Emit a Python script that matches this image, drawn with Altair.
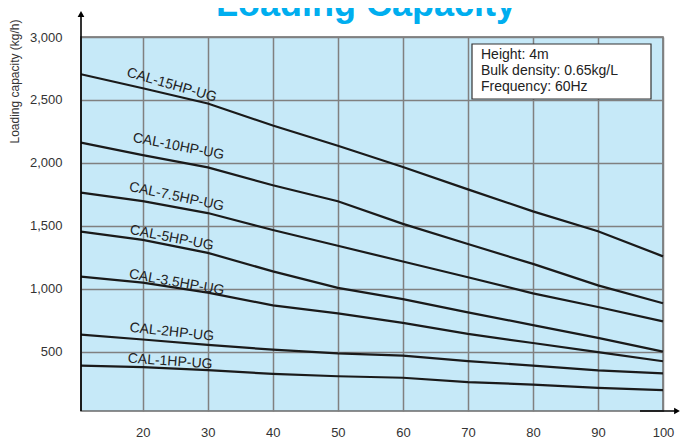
import altair as alt
import pandas as pd

# ---- data ----
capacity = [10.5, 20, 30, 40, 50, 60, 70, 80, 90, 100]
models = ["CAL-15HP-UG", "CAL-10HP-UG", "CAL-7.5HP-UG", "CAL-5HP-UG",
          "CAL-3.5HP-UG", "CAL-2HP-UG", "CAL-1HP-UG"]
hp15 = [2704, 2593, 2472, 2297, 2136, 1968, 1790, 1615, 1458, 1258]
hp10 = [2161, 2062, 1965, 1823, 1696, 1516, 1356, 1198, 1028, 886]
hp7_5 = [1764, 1696, 1602, 1467, 1342, 1217, 1092, 964, 856, 742]
hp5 = [1454, 1389, 1286, 1139, 1008, 919, 813, 712, 611, 502]
hp3_5 = [1097, 1050, 970, 869, 805, 730, 642, 570, 497, 425]
hp2 = [636, 598, 555, 517, 487, 470, 426, 391, 352, 329]
hp1 = [391, 378, 354, 325, 306, 294, 259, 240, 214, 195]
series = [hp15, hp10, hp7_5, hp5, hp3_5, hp2, hp1]

label_x = [24.45, 25.5, 25.2, 24.45, 25.2, 24.45, 24.2]
label_y = [2618, 2130, 1731, 1404, 1050, 656, 423]
label_angle = [16, 11, 12, 11, 10, 6, 4]

x_ticks = [20, 30, 40, 50, 60, 70, 80, 90, 100]
y_ticks = [500, 1000, 1500, 2000, 2500, 3000]

title_text = "Loading Capacity"
y_title = "Loading capacity (kg/h)"
info_text = "Height: 4m\nBulk density: 0.65kg/L\nFrequency: 60Hz"

FONT = "Liberation Sans"

rows = []
for m, vals in zip(models, series):
    for xv, yv in zip(capacity, vals):
        rows.append({"model": m, "x": xv, "y": yv})
df = pd.DataFrame(rows)

lab = pd.DataFrame({"model": models, "x": label_x, "y": label_y, "angle": label_angle})

xscale = alt.Scale(domain=[10.5, 100], nice=False, zero=False)
yscale = alt.Scale(domain=[30, 3000], nice=False, zero=False)

xaxis = alt.Axis(values=x_ticks, grid=True, ticks=False, domain=False,
                 labelPadding=15, title=None, labelFlush=False)
yaxis = alt.Axis(values=y_ticks, grid=True, ticks=False, domain=False,
                 labelPadding=19, format=",d", title=y_title,
                 titleX=-67, titleY=44, titleAngle=270, titleAlign="center",
                 titleBaseline="middle", titleFontSize=12, titleFontWeight="normal",
                 titleColor="#333333", titleFont=FONT)

lines = alt.Chart(df).mark_line(color="#1a1a1a", strokeWidth=2.2).encode(
    x=alt.X("x:Q", scale=xscale, axis=xaxis),
    y=alt.Y("y:Q", scale=yscale, axis=yaxis),
    detail="model:N",
)

labels = []
for i in range(len(models)):
    labels.append(
        alt.Chart(lab.iloc[[i]]).mark_text(
            font=FONT, fontSize=14, color="#222222", angle=label_angle[i],
            align="center", baseline="middle"
        ).encode(x=alt.X("x:Q", scale=xscale), y=alt.Y("y:Q", scale=yscale), text="model:N")
    )

one = pd.DataFrame({"k": [0]})

box = alt.Chart(one).mark_rect(fill="white", stroke="#333333", strokeWidth=1.2).encode(
    x=alt.value(391), x2=alt.value(570), y=alt.value(7), y2=alt.value(62)
)
box_text = alt.Chart(one).mark_text(
    font=FONT, fontSize=14, color="#222222", align="left", baseline="top",
    lineBreak="\n", lineHeight=16, text=info_text
).encode(x=alt.value(400), y=alt.value(11))

title = alt.Chart(one).mark_text(
    font=FONT, fontSize=36, fontWeight="bold", color="#00aeef", align="center",
    baseline="alphabetic", text=title_text
).encode(x=alt.value(285), y=alt.value(-21))

yarrow = alt.Chart(one).mark_rule(color="black", strokeWidth=1.6).encode(
    x=alt.value(0), y=alt.value(-24), y2=alt.value(374)
)
yhead = alt.Chart(one).mark_point(shape="triangle-up", filled=True, color="black",
                                  size=45, opacity=1).encode(
    x=alt.value(0), y=alt.value(-23)
)
xarrow = alt.Chart(one).mark_rule(color="black", strokeWidth=1.6).encode(
    x=alt.value(559), x2=alt.value(596), y=alt.value(374)
)
xhead = alt.Chart(one).mark_point(shape="triangle-right", filled=True, color="black",
                                  size=45, opacity=1).encode(
    x=alt.value(596), y=alt.value(374)
)

chart = alt.layer(lines, *labels, box, box_text, title, yarrow, yhead, xarrow, xhead).properties(
    width=582, height=374,
    autosize=alt.AutoSizeParams(type="none"),
    padding={"left": 73, "top": 29, "right": 19, "bottom": 27},
).configure_view(
    fill="#c6e9f8", stroke="#6a6a6a", strokeWidth=1.5
).configure_axis(
    labelFont=FONT, labelFontSize=13, labelColor="#333333",
    gridColor="#808080", gridWidth=1.5, gridOpacity=1
)

chart.save("out.html", embed_options={"renderer": "svg", "actions": False})
